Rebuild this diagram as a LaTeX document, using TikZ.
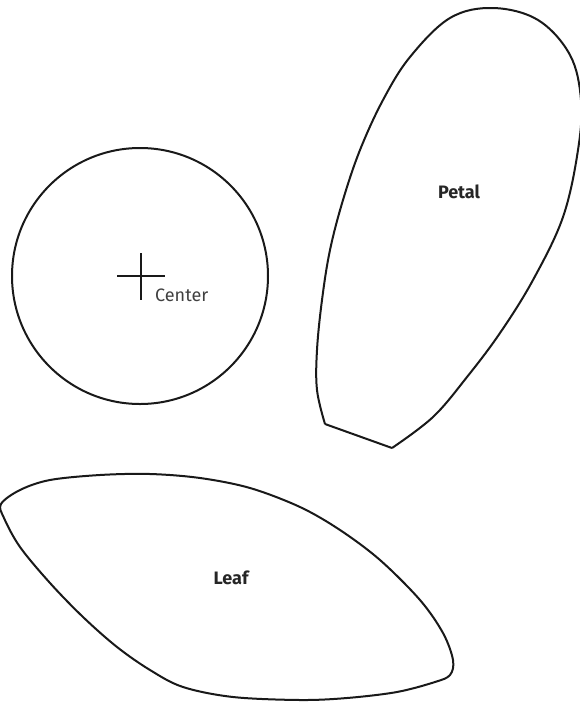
\documentclass[tikz,border=0pt]{standalone}
\usepackage{fontspec}
\setsansfont{Fira Sans}
\usetikzlibrary{positioning}

\begin{document}
\begin{tikzpicture}[x=1pt,y=-1pt,
    outline/.style={line width=2pt, black!90, line join=round},
    tag/.style={font=\sffamily\fontsize{18}{21}\selectfont, text=black!75, inner sep=0pt},
    bigtag/.style={font=\sffamily\bfseries\fontsize{18}{21}\selectfont, text=black!85, inner sep=0pt}]
  \useasboundingbox (0,0) rectangle (579,702);

  % center disc
  \coordinate (C) at (140,276);
  \draw[outline] (C) circle (128);
  \draw[outline] (117,276) -- (165,276);
  \draw[outline] (141,253) -- (141,300);
  \node[tag, anchor=west] (lblC) at (155,295) {Center};

  % petal
  \draw[outline] (325,424) -- (392,448)
    plot[smooth, tension=0.6] coordinates {
      (392,448) (433,417) (467,377) (500,333) (533,280) (563,217)
      (578,150) (581,100) (570,55) (538,20) (493,8) (450,18)
      (410,57) (383,100) (360,150) (343,200) (330,250) (322,300)
      (317,350) (317,390) (325,424)};
  \node[bigtag] (lblP) at (459,192) {Petal};

  % leaf
  \draw[outline] plot[smooth cycle, tension=0.55] coordinates {
      (1,504) (20,490) (50,480) (100,475) (150,474) (200,478) (250,488)
      (300,507) (340,530) (380,560) (420,600) (443,633) (453,660)
      (450,675) (435,682) (397,692) (347,698) (300,700) (233,697)
      (183,687) (150,670) (117,647) (83,617) (50,583) (20,547) (4,518)};
  \node[bigtag] (lblL) at (231,578) {Leaf};
\end{tikzpicture}
\end{document}
